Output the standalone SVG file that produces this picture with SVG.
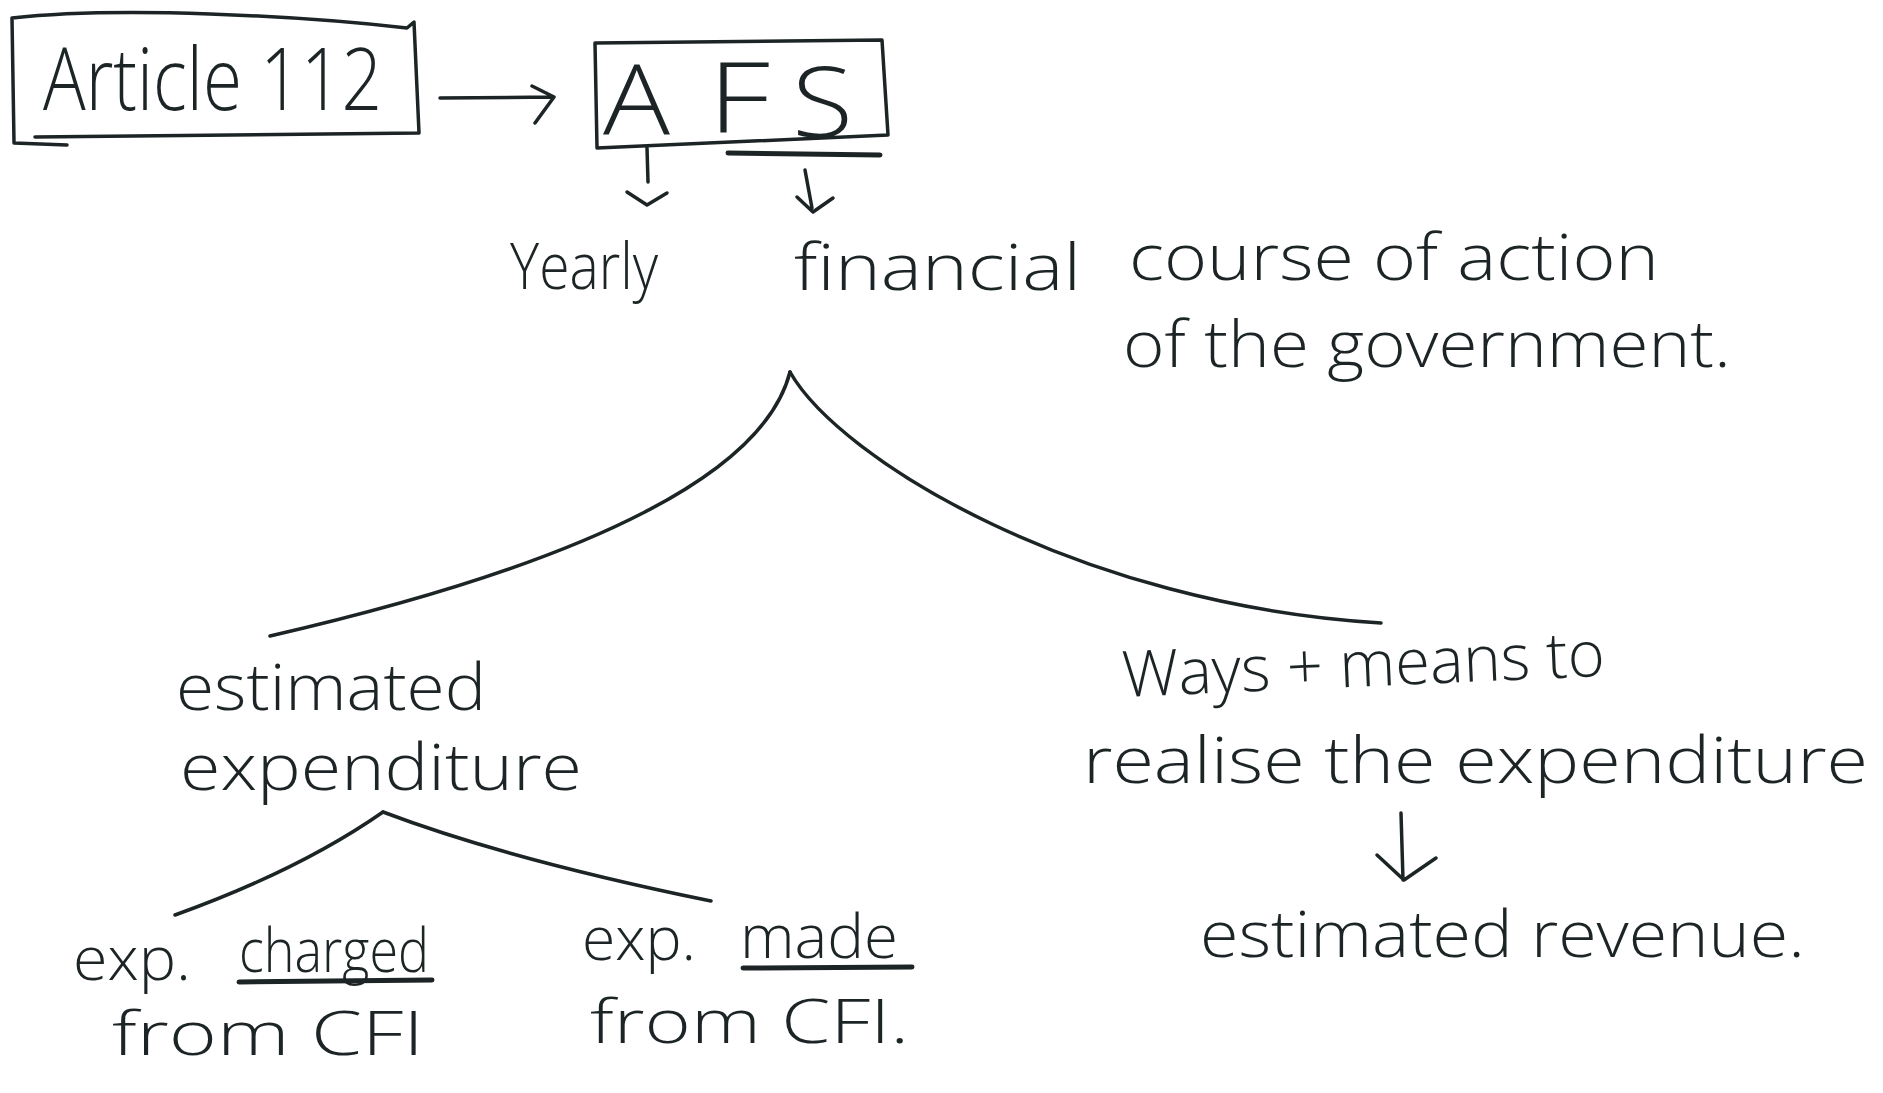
<svg xmlns="http://www.w3.org/2000/svg" width="1883" height="1093" viewBox="0 0 1883 1093">
<style>
.ink{fill:none;stroke:#1c2426;stroke-width:3.5;stroke-linecap:round;stroke-linejoin:round}
.thick{stroke-width:5}
.t{font-family:"Open Sans","Liberation Sans",sans-serif;font-weight:300;fill:#1c2426;font-size:64px}
.big{font-size:86px}
.afs{font-size:98px}
.sm{font-size:60px}
</style>
<rect width="1883" height="1093" fill="#ffffff"/>
<g id="node-article">
<path class="ink" d="M12,18 C120,6 300,16 407,28 L414,22 L419,133 L35,137 M12,18 L14,143 L67,145"/>
<text class="t big" x="43" y="110" textLength="339" lengthAdjust="spacingAndGlyphs">Article 112</text>
</g>
<g id="node-afs">
<path class="ink" d="M595,43 L882,40 L888,135 L597,148 Z"/>
<path class="ink thick" d="M728,153 L880,155"/>
<text class="t afs" x="603" y="135" textLength="67" lengthAdjust="spacingAndGlyphs">A</text>
<text class="t afs" x="708" y="132" textLength="62" lengthAdjust="spacingAndGlyphs">F</text>
<text class="t afs" x="792" y="137" textLength="61" lengthAdjust="spacingAndGlyphs">S</text>
</g>
<g id="node-yearly">
<text class="t" x="510" y="289" font-size="70" textLength="148" lengthAdjust="spacingAndGlyphs">Yearly</text>
</g>
<g id="node-financial">
<text class="t" x="794" y="290" textLength="287" lengthAdjust="spacingAndGlyphs">financial</text>
<text class="t" x="1129" y="280" textLength="530" lengthAdjust="spacingAndGlyphs">course of action</text>
<text class="t" x="1123" y="367" textLength="608" lengthAdjust="spacingAndGlyphs">of the government.</text>
</g>
<g id="node-estimated-expenditure">
<text class="t" x="176" y="710" textLength="310" lengthAdjust="spacingAndGlyphs">estimated</text>
<text class="t" x="180" y="790" textLength="402" lengthAdjust="spacingAndGlyphs">expenditure</text>
</g>
<g id="node-ways-means">
<text class="t" x="1123" y="697" textLength="483" lengthAdjust="spacingAndGlyphs" transform="rotate(-2.5 1123 697)">Ways + means to</text>
<text class="t" x="1083" y="783" textLength="785" lengthAdjust="spacingAndGlyphs">realise the expenditure</text>
</g>
<g id="node-charged">
<text class="t sm" x="73" y="980" textLength="118" lengthAdjust="spacingAndGlyphs">exp.</text>
<text class="t sm" x="239" y="972" textLength="190" lengthAdjust="spacingAndGlyphs">charged</text>
<path class="ink thick" d="M239,982 L432,980"/>
<text class="t sm" x="112" y="1055" textLength="312" lengthAdjust="spacingAndGlyphs">from CFI</text>
</g>
<g id="node-made">
<text class="t sm" x="582" y="960" textLength="114" lengthAdjust="spacingAndGlyphs">exp.</text>
<text class="t sm" x="740" y="958" textLength="158" lengthAdjust="spacingAndGlyphs">made</text>
<path class="ink thick" d="M743,968 L912,967"/>
<text class="t sm" x="590" y="1043" textLength="319" lengthAdjust="spacingAndGlyphs">from CFI.</text>
</g>
<g id="node-revenue">
<text class="t" x="1200" y="957" textLength="605" lengthAdjust="spacingAndGlyphs">estimated revenue.</text>
</g>
<g id="connectors">
<path class="ink" d="M440,98 L553,97 M532,86 L554,97 L535,123"/>
<path class="ink" d="M647,148 L648,182 M627,192 L647,205 L667,193"/>
<path class="ink" d="M805,170 L812,208 M797,197 L813,212 L833,198"/>
<path class="ink" d="M790,372 C765,470 600,560 270,636"/>
<path class="ink" d="M790,372 C840,460 1080,605 1381,623"/>
<path class="ink" d="M383,812 Q300,870 175,915"/>
<path class="ink" d="M383,812 Q510,860 711,901"/>
<path class="ink" d="M1401,813 L1403,880 M1377,855 L1404,880 L1436,858"/>
</g>
</svg>
